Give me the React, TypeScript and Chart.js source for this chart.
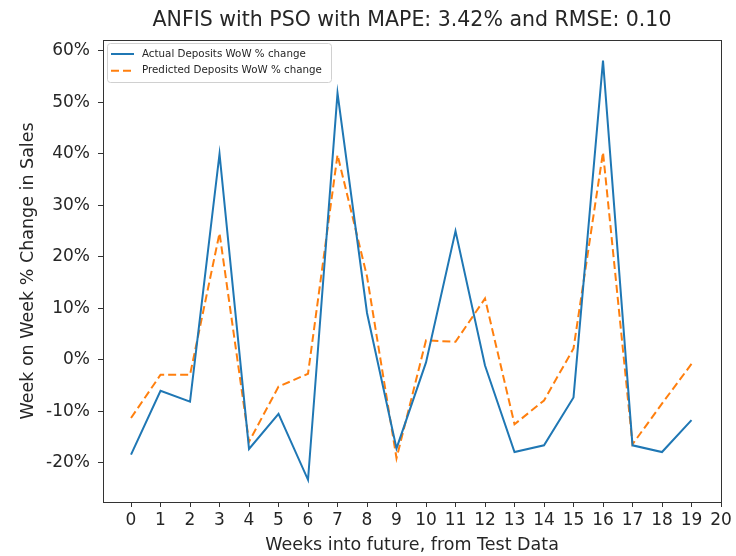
import React, { useEffect, useRef } from "react";
import { Chart, registerables } from "chart.js";

Chart.register(...registerables);

const weeks = [0, 1, 2, 3, 4, 5, 6, 7, 8, 9, 10, 11, 12, 13, 14, 15, 16, 17, 18, 19];
const actual = [-18.4, -6.0, -8.1, 40.0, -17.3, -10.5, -23.3, 51.8, 9.1, -17.2, -0.5, 25.0, -1.1, -17.9, -16.6, -7.3, 58.1, -16.6, -17.9, -11.7];
const predicted = [-11.3, -2.9, -2.9, 24.6, -15.9, -5.2, -2.7, 39.8, 16.2, -19.1, 3.8, 3.5, 11.9, -12.5, -7.9, 2.2, 40.3, -16.4, -8.5, -0.8];
const xTicks = [0, 1, 2, 3, 4, 5, 6, 7, 8, 9, 10, 11, 12, 13, 14, 15, 16, 17, 18, 19, 20];
const yTicks = [-20, -10, 0, 10, 20, 30, 40, 50, 60];

const titleText = "ANFIS with PSO with MAPE: 3.42% and RMSE: 0.10";
const xLabel = "Weeks into future, from Test Data";
const yLabel = "Week on Week % Change in Sales";
const seriesNames = ["Actual Deposits WoW % change", "Predicted Deposits WoW % change"];

const FONT = "'DejaVu Sans', sans-serif";
const BLUE = "#1f77b4";
const ORANGE = "#ff7f0e";
const INK = "#262626";

const framePlugin = {
  id: "frame",
  afterDraw(chart: any) {
    const { ctx, chartArea } = chart;
    ctx.save();
    ctx.strokeStyle = "#333";
    ctx.lineWidth = 1;
    ctx.strokeRect(
      Math.round(chartArea.left) + 0.5,
      Math.round(chartArea.top) + 0.5,
      Math.round(chartArea.right - chartArea.left),
      Math.round(chartArea.bottom - chartArea.top)
    );
    ctx.restore();
  },
};

const legendPlugin = {
  id: "mplLegend",
  afterDatasetsDraw(chart: any) {
    const { ctx, chartArea } = chart;
    const x = chartArea.left + 4;
    const y = chartArea.top + 3;
    const w = 224;
    const h = 39;
    ctx.save();
    ctx.beginPath();
    if (ctx.roundRect) ctx.roundRect(x + 0.5, y + 0.5, w, h, 3);
    else ctx.rect(x + 0.5, y + 0.5, w, h);
    ctx.fillStyle = "rgba(255,255,255,0.85)";
    ctx.fill();
    ctx.strokeStyle = "#d0d0d0";
    ctx.lineWidth = 1;
    ctx.stroke();
    chart.data.datasets.forEach((ds: any, i: number) => {
      const cy = y + 11 + i * 16.7;
      ctx.beginPath();
      ctx.setLineDash(ds.borderDash || []);
      ctx.strokeStyle = ds.borderColor;
      ctx.lineWidth = 2;
      ctx.moveTo(x + 4, cy);
      ctx.lineTo(x + 27, cy);
      ctx.stroke();
      ctx.setLineDash([]);
      ctx.fillStyle = INK;
      ctx.font = `10.3px ${FONT}`;
      ctx.textBaseline = "middle";
      ctx.textAlign = "left";
      ctx.fillText(ds.label, x + 35, cy);
    });
    ctx.restore();
  },
};

export default function App() {
  const ref = useRef<HTMLCanvasElement | null>(null);
  useEffect(() => {
    if (!ref.current) return;
    const chart = new Chart(ref.current, {
      type: "line",
      data: {
        datasets: [
          {
            label: seriesNames[0],
            data: weeks.map((w, i) => ({ x: w, y: actual[i] })),
            borderColor: BLUE,
            backgroundColor: BLUE,
            borderWidth: 2,
            pointRadius: 0,
            tension: 0,
            fill: false,
          },
          {
            label: seriesNames[1],
            data: weeks.map((w, i) => ({ x: w, y: predicted[i] })),
            borderColor: ORANGE,
            backgroundColor: ORANGE,
            borderWidth: 2,
            borderDash: [8, 4],
            pointRadius: 0,
            tension: 0,
            fill: false,
          },
        ],
      },
      options: {
        animation: false,
        responsive: false,
        devicePixelRatio: 1,
        layout: { padding: { left: 0, right: 15, top: 0, bottom: 0 } },
        plugins: {
          legend: { display: false },
          tooltip: { enabled: false },
          title: {
            display: true,
            text: titleText,
            fullSize: false,
            color: INK,
            font: { family: FONT, size: 20.5, weight: "normal" },
            padding: { top: 8.7, bottom: 6.7 },
          },
        },
        scales: {
          x: {
            type: "linear",
            min: -0.95,
            max: 20,
            afterBuildTicks: (s: any) => {
              s.ticks = xTicks.map((v) => ({ value: v }));
            },
            afterFit: (s: any) => {
              s.height = 54;
            },
            grid: { display: true, drawOnChartArea: false, drawTicks: true, tickLength: 5, color: "#333" },
            border: { display: true, color: "#333" },
            ticks: {
              autoSkip: false,
              maxRotation: 0,
              color: INK,
              padding: 3,
              font: { family: FONT, size: 17 },
            },
            title: {
              display: true,
              text: xLabel,
              color: INK,
              font: { family: FONT, size: 17.5 },
              padding: { top: 0, bottom: 0.5 },
            },
          },
          y: {
            type: "linear",
            min: -27.6,
            max: 62.1,
            afterBuildTicks: (s: any) => {
              s.ticks = yTicks.map((v) => ({ value: v }));
            },
            afterFit: (s: any) => {
              s.width = 103;
            },
            grid: { display: true, drawOnChartArea: false, drawTicks: true, tickLength: 5, color: "#333" },
            border: { display: true, color: "#333" },
            ticks: {
              color: INK,
              padding: 8,
              font: { family: FONT, size: 17 },
              callback: (v: any) => `${v}%`,
            },
            title: {
              display: true,
              text: yLabel,
              color: INK,
              font: { family: FONT, size: 17.5 },
              padding: { top: 17.5, bottom: 0 },
            },
          },
        },
      },
      plugins: [framePlugin, legendPlugin],
    } as any);
    return () => chart.destroy();
  }, []);
  return (
    <div style={{ position: "fixed", left: 0, top: 0, width: 736, height: 556, background: "#fff" }}>
      <canvas ref={ref} width={736} height={556} style={{ width: 736, height: 556, display: "block" }} />
    </div>
  );
}
